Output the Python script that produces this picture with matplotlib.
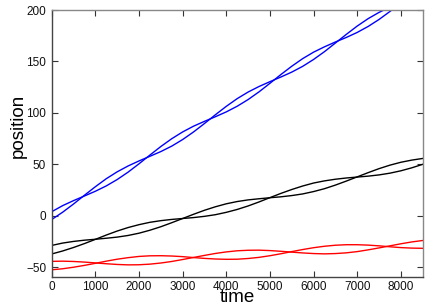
import matplotlib
matplotlib.use("Agg")
import matplotlib.pyplot as plt

plt.rcParams['font.family'] = ['Liberation Sans', 'DejaVu Sans']

time = list(range(0, 8501, 250))

blue_a = [3.8, 9.7, 14.6, 19.1, 23.7, 28.9, 35.1, 42.3, 50.4, 58.9, 67.2, 74.8,
          81.4, 87.0, 91.7, 96.2, 100.9, 106.4, 112.9, 120.4, 128.7, 137.2, 145.3,
          152.7, 159.0, 164.2, 168.9, 173.3, 178.2, 184.0, 190.8, 198.6, 207.0]
blue_b = [-3.8, 3.3, 11.3, 19.8, 28.1, 35.9, 42.6, 48.3, 53.2, 57.7, 62.3, 67.6,
          74.0, 81.4, 89.6, 98.1, 106.3, 113.8, 120.2, 125.6, 130.3, 134.8, 139.6,
          145.2, 151.9, 159.5, 167.9, 176.3, 184.4, 191.6, 197.7, 202.8, 207.4]

black_u = [-29.0, -26.7, -25.1, -23.9, -23.0, -22.0, -20.9, -19.3, -17.1, -14.2,
           -10.8, -6.9, -2.8, 1.3, 5.2, 8.6, 11.5, 13.7, 15.3, 16.4, 17.4, 18.3,
           19.5, 21.1, 23.4, 26.2, 29.7, 33.6, 37.7, 41.8, 45.7, 49.1, 51.9, 54.0, 55.6]
black_l = [-37.3, -34.4, -31.0, -27.2, -23.1, -18.9, -15.0, -11.6, -8.8, -6.5,
           -4.9, -3.7, -2.8, -1.9, -0.7, 0.9, 3.2, 6.0, 9.4, 13.3, 17.5, 21.6,
           25.4, 28.8, 31.7, 33.8, 35.4, 36.6, 37.5, 38.4, 39.6, 41.3, 43.6, 46.5, 49.9]

red_u = [-44.5, -44.3, -44.6, -45.2, -46.0, -46.8, -47.5, -47.9, -47.8, -47.2,
         -46.1, -44.6, -42.7, -40.7, -38.7, -36.8, -35.3, -34.2, -33.7, -33.6,
         -34.0, -34.7, -35.5, -36.3, -36.9, -37.2, -36.9, -36.2, -35.0, -33.3,
         -31.4, -29.4, -27.4, -25.6, -24.2]
red_l = [-52.7, -51.7, -50.2, -48.4, -46.4, -44.3, -42.4, -40.9, -39.7, -39.1,
         -39.0, -39.3, -39.9, -40.8, -41.6, -42.2, -42.5, -42.4, -41.7, -40.6,
         -39.0, -37.1, -35.0, -33.0, -31.2, -29.8, -28.8, -28.3, -28.3, -28.7,
         -29.4, -30.3, -31.1, -31.6, -31.8]

xticks = [0, 1000, 2000, 3000, 4000, 5000, 6000, 7000, 8000]
yticks = [-50, 0, 50, 100, 150, 200]

fig = plt.figure(figsize=(4.36, 3.05), dpi=100)
ax = fig.add_axes([0.1186, 0.0908, 0.8509, 0.8764])

lw = 1.0
ax.plot(time[:len(blue_a)], blue_a, color='#0000ff', lw=lw)
ax.plot(time[:len(blue_b)], blue_b, color='#0000ff', lw=lw)
ax.plot(time, black_u, color='black', lw=lw)
ax.plot(time, black_l, color='black', lw=lw)
ax.plot(time, red_u, color='#ff0000', lw=lw)
ax.plot(time, red_l, color='#ff0000', lw=lw)

ax.set_xlim(0, 8500)
ax.set_ylim(-60, 200)
ax.set_xticks(xticks)
ax.set_yticks(yticks)
ax.tick_params(direction='in', top=True, right=True, length=4, width=0.8,
               labelsize=8.5, color='#333333', labelcolor='#111111')
ax.tick_params(axis='x', pad=3)
ax.tick_params(axis='y', pad=4)
for name, s in ax.spines.items():
    s.set_linewidth(1.0)
    s.set_color('#444444' if name in ('left', 'bottom') else '#888888')

ax.set_xlabel('time', fontsize=13.5, labelpad=-3)
ax.set_ylabel('position', fontsize=13.5)
ax.yaxis.set_label_coords(-0.066, 0.566)

fig.savefig('out.png', dpi=100)
